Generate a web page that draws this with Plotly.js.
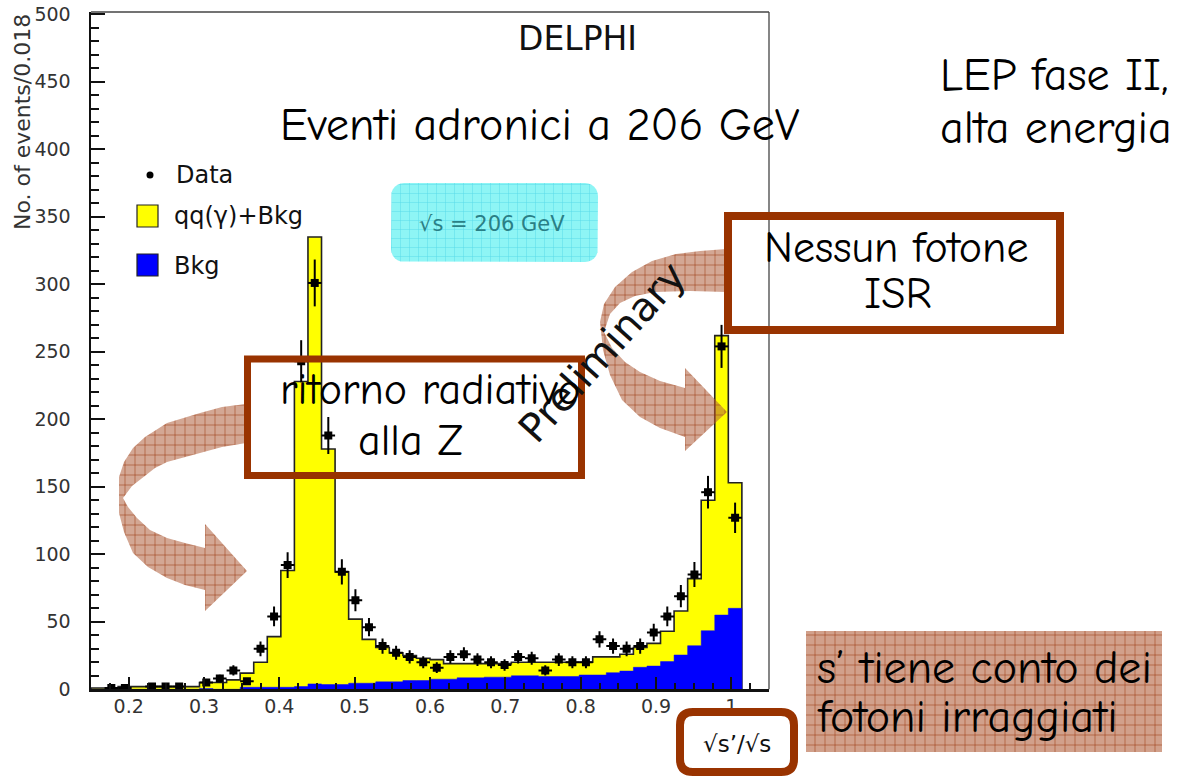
<!DOCTYPE html>
<html>
<head>
<meta charset="utf-8">
<script src="https://cdn.plot.ly/plotly-3.0.1.min.js"></script>
<style>
  html, body { margin: 0; padding: 0; background: #fff; }
  #chart { width: 1192px; height: 778px; }
</style>
</head>
<body>
<div id="chart"></div>
<script>
// sqrt(s')/sqrt(s) histogram, bins of 0.018
const binCenters = [
  0.159, 0.177, 0.195, 0.213, 0.231, 0.249, 0.267, 0.285, 0.303, 0.321,
  0.339, 0.357, 0.375, 0.393, 0.411, 0.429, 0.447, 0.465, 0.483, 0.501,
  0.519, 0.537, 0.555, 0.573, 0.591, 0.609, 0.627, 0.645, 0.663, 0.681,
  0.699, 0.717, 0.735, 0.753, 0.771, 0.789, 0.807, 0.825, 0.843, 0.861,
  0.879, 0.897, 0.915, 0.933, 0.951, 0.969, 0.987, 1.005
];
const binWidth = 0.018;

// qq(gamma)+Bkg simulation
const mcTotal = [
  1, 1, 2, 2, 2, 2, 2, 2, 5, 5,
  7, 12, 20, 39, 88, 228, 335, 178, 87, 52,
  37, 31, 27, 25, 23, 22, 19, 19, 19, 19,
  19, 20, 20, 20, 20, 20, 20, 24, 24, 26,
  31, 34, 43, 58, 82, 140, 262, 153
];

// background only
const bkg = [
  0, 0, 0, 0, 0, 0, 0, 0, 0.5, 0,
  0, 1.5, 1.5, 1.5, 1.5, 2, 4, 3.5, 3.5, 4.5,
  4.5, 5.5, 5.5, 6.5, 6.5, 7.5, 7.5, 8.5, 8.5, 9,
  9, 10, 10, 9.5, 9.5, 9.5, 10.6, 10.6, 12.3, 13.5,
  16.3, 17.2, 20.5, 25.4, 32.3, 43.4, 55, 60
];

// DELPHI data, 206 GeV
const dataCounts = [
  null, 1, 1, null, 2, 2, 2, null, 5, 8,
  14, 6, 30, 54, 92, 243, 301, 188, 87, 66,
  46, 32, 27, 24, 20, 16, 24, 26, 22, 20,
  18, 24, 23, 14, 22, 20, 20, 37, 32, 30,
  32, 42, 54, 69, 85, 146, 254, 127
];

const W = 1192, H = 778;
const plotL = 91, plotR = 769, plotT = 12, plotB = 689.3;

// histogram outline as a step path over the bin edges
function stepXY(values) {
  const xs = [], ys = [];
  const lo = binCenters[0] - binWidth / 2;
  const hi = binCenters[binCenters.length - 1] + binWidth / 2;
  xs.push(lo); ys.push(0);
  values.forEach((v, i) => { xs.push(binCenters[i] - binWidth / 2); ys.push(v); });
  xs.push(hi); ys.push(values[values.length - 1]);
  xs.push(hi); ys.push(0);
  return { xs, ys };
}

// rounded rectangle outline (page pixels) for the decoration layer
function roundRect(x0, y0, x1, y1, r) {
  const xs = [], ys = [];
  const corners = [
    [x1 - r, y0 + r, -90], [x1 - r, y1 - r, 0],
    [x0 + r, y1 - r, 90], [x0 + r, y0 + r, 180]
  ];
  corners.forEach(([cx, cy, a0]) => {
    for (let k = 0; k <= 6; k++) {
      const a = (a0 + k * 15) * Math.PI / 180;
      xs.push(cx + r * Math.cos(a)); ys.push(cy + r * Math.sin(a));
    }
  });
  xs.push(xs[0]); ys.push(ys[0]);
  return { xs, ys };
}
function roundRectPath(x0, y0, x1, y1, r) {
  return `M${x0 + r},${y0} L${x1 - r},${y0} Q${x1},${y0} ${x1},${y0 + r} ` +
         `L${x1},${y1 - r} Q${x1},${y1} ${x1 - r},${y1} L${x0 + r},${y1} ` +
         `Q${x0},${y1} ${x0},${y1 - r} L${x0},${y0 + r} Q${x0},${y0} ${x0 + r},${y0} Z`;
}

// curved arrows (page pixels)
const leftArrowX = [246,222,200,167,145,133,124,119,119,119,124,133,148,167,185,205, 205,247,205, 205,185,167,150,137,128,123, 132,143,155,167,185,200,222,246];
const leftArrowY = [404,407,413,423,437,448,462,477,495,513,532,553,567,578,585,590, 611,571,524, 548,543,538,530,518,507,498, 486,477,468,462,457,453,447,443];
const rightArrowX = [726,700,676,652,632,615,604,600, 603,610,622,640,660,685, 685,727,685, 685,660,640,625,612,604, 610,620,635,655,690,726];
const rightArrowY = [249,251,254,261,272,287,304,322, 350,375,400,417,428,437, 451,412,368, 388,381,372,362,348,332, 314,303,296,292,291,292];

const hatch = {
  shape: '+', size: 10, solidity: 0.12,
  bgcolor: 'rgba(175,95,60,0.55)', fgcolor: '#9a3a12', fgopacity: 0.9
};

const mc = stepXY(mcTotal);
const bk = stepXY(bkg);
const cyanBox = roundRect(391, 183, 598, 262, 13);

const traces = [
  {
    x: mc.xs, y: mc.ys, type: 'scatter', mode: 'lines',
    line: { shape: 'hv', color: '#222', width: 1.6 },
    fill: 'tozeroy', fillcolor: '#ffff00', hoverinfo: 'skip', xaxis: 'x', yaxis: 'y'
  },
  {
    x: bk.xs, y: bk.ys, type: 'scatter', mode: 'lines',
    line: { shape: 'hv', color: '#0000ff', width: 0.5 },
    fill: 'tozeroy', fillcolor: '#0000ff', hoverinfo: 'skip', xaxis: 'x', yaxis: 'y'
  },
  {
    x: binCenters, y: dataCounts, type: 'scatter', mode: 'markers',
    marker: { symbol: 'square', size: 8, color: '#000' },
    error_y: { type: 'data', array: dataCounts.map(v => v == null ? null : Math.sqrt(v)), color: '#000', thickness: 2, width: 0 },
    error_x: { type: 'constant', value: binWidth / 2, color: '#000', thickness: 2, width: 0 },
    hoverinfo: 'skip', xaxis: 'x', yaxis: 'y'
  },
  {
    x: cyanBox.xs, y: cyanBox.ys, type: 'scatter', mode: 'lines', line: { width: 0 },
    fill: 'toself', fillcolor: '#8ef5f5',
    fillpattern: { shape: '+', size: 9, solidity: 0.1, bgcolor: '#8ef5f5', fgcolor: '#4fd6e6', fgopacity: 0.9 },
    hoverinfo: 'skip', xaxis: 'x2', yaxis: 'y2'
  },
  {
    x: leftArrowX, y: leftArrowY, type: 'scatter', mode: 'lines', line: { width: 0 },
    fill: 'toself', fillcolor: hatch.bgcolor, fillpattern: hatch,
    hoverinfo: 'skip', xaxis: 'x2', yaxis: 'y2'
  },
  {
    x: rightArrowX, y: rightArrowY, type: 'scatter', mode: 'lines', line: { width: 0 },
    fill: 'toself', fillcolor: hatch.bgcolor, fillpattern: hatch,
    hoverinfo: 'skip', xaxis: 'x2', yaxis: 'y2'
  },
  {
    x: [806, 1162, 1162, 806, 806], y: [631, 631, 752, 752, 631], type: 'scatter', mode: 'lines', line: { width: 0 },
    fill: 'toself', fillcolor: 'rgba(190,120,90,0.7)',
    fillpattern: { shape: '+', size: 10, solidity: 0.12, bgcolor: 'rgba(190,120,90,0.7)', fgcolor: '#9a3a12', fgopacity: 0.9 },
    hoverinfo: 'skip', xaxis: 'x2', yaxis: 'y2'
  }
];

const sans = 'DejaVu Sans, Verdana, sans-serif';
const axisFont = { family: sans, size: 19, color: '#333' };
const handFont = "'Comic Sans MS', 'Comic Neue', 'Open Sans', sans-serif";
const brown = '#993300';

function label(text, x, y, size, opts) {
  return Object.assign({
    text, x, y, xref: 'x2', yref: 'y2', showarrow: false,
    font: { family: handFont, size, color: '#000' },
    xanchor: 'center', yanchor: 'middle'
  }, opts || {});
}
function plain(size, color) {
  return { family: sans, size, color: color || '#111' };
}

const layout = {
  width: W, height: H,
  margin: { l: 0, r: 0, t: 0, b: 0 },
  paper_bgcolor: '#fff', plot_bgcolor: 'rgba(0,0,0,0)',
  showlegend: false,
  xaxis: {
    domain: [plotL / W, plotR / W], range: [0.15, 1.05], anchor: 'y',
    tick0: 0.2, dtick: 0.1, ticks: 'inside', ticklen: 12, tickwidth: 2, tickcolor: '#111',
    showline: true, linewidth: 2.5, linecolor: '#111', showgrid: false, zeroline: false,
    tickfont: axisFont, ticklabelstandoff: -2,
    minor: { dtick: 0.025, tick0: 0, ticks: 'inside', ticklen: 6, tickwidth: 2, tickcolor: '#111', showgrid: false },
    fixedrange: true
  },
  yaxis: {
    domain: [(H - plotB) / H, (H - plotT) / H], range: [0, 501.7], anchor: 'x',
    tick0: 0, dtick: 50, ticks: 'inside', ticklen: 14, tickwidth: 2, tickcolor: '#111',
    showline: true, linewidth: 2.5, linecolor: '#111', showgrid: false, zeroline: false,
    tickfont: axisFont, ticklabelstandoff: 14,
    minor: { dtick: 10, tick0: 0, ticks: 'inside', ticklen: 8, tickwidth: 2, tickcolor: '#111', showgrid: false },
    fixedrange: true
  },
  xaxis2: { domain: [0, 1], range: [0, W], anchor: 'y2', visible: false, fixedrange: true },
  yaxis2: { domain: [0, 1], range: [H, 0], anchor: 'x2', visible: false, fixedrange: true },
  shapes: [
    // upper and right frame
    { type: 'line', xref: 'x2', yref: 'y2', x0: plotL, x1: plotR, y0: plotT, y1: plotT, line: { color: '#444', width: 1.3 } },
    { type: 'line', xref: 'x2', yref: 'y2', x0: plotR, x1: plotR, y0: plotT, y1: plotB, line: { color: '#444', width: 1.3 } },
    // legend swatches
    { type: 'circle', xref: 'x2', yref: 'y2', x0: 146.5, x1: 153.5, y0: 171.5, y1: 178.5, fillcolor: '#000', line: { width: 0 } },
    { type: 'rect', xref: 'x2', yref: 'y2', x0: 137, x1: 158, y0: 205, y1: 227, fillcolor: '#ffff00', line: { color: '#222', width: 1.2 } },
    { type: 'rect', xref: 'x2', yref: 'y2', x0: 137, x1: 158, y0: 254, y1: 276, fillcolor: '#0000ff', line: { color: '#222', width: 1.2 } },
    // annotation frames
    { type: 'rect', xref: 'x2', yref: 'y2', x0: 247.5, x1: 581.5, y0: 359, y1: 475.5, line: { color: brown, width: 7 }, layer: 'above' },
    { type: 'rect', xref: 'x2', yref: 'y2', x0: 728, x1: 1060, y0: 216, y1: 330, line: { color: brown, width: 8 }, layer: 'above' },
    { type: 'path', xref: 'x2', yref: 'y2', path: roundRectPath(680, 712, 794, 772, 13), fillcolor: '#fff', line: { color: brown, width: 8 }, layer: 'above' }
  ],
  annotations: [
    label('No. of events/0.018', 22, 122, 22, { font: plain(22, '#333'), textangle: -90 }),
    label('DELPHI', 577, 38, 33, { font: plain(33, '#111') }),
    label('Eventi adronici a 206 GeV', 540, 125, 46),
    label('LEP fase II,', 938, 75, 46, { xanchor: 'left' }),
    label('alta energia', 938, 128, 46, { xanchor: 'left' }),
    label('Data', 174, 175, 24, { xanchor: 'left', font: plain(24) }),
    label('qq(γ)+Bkg', 172, 216, 24, { xanchor: 'left', font: plain(24) }),
    label('Bkg', 172, 266, 24, { xanchor: 'left', font: plain(24) }),
    label('√s = 206 GeV', 492, 224, 21, { font: plain(21, '#2a7f86') }),
    label('Preliminary', 602, 352, 40, { textangle: -48, font: plain(40, '#111') }),
    label('ritorno radiativo', 430, 389, 44),
    label('alla Z', 410, 440, 44),
    label('Nessun fotone', 896, 247, 44),
    label('ISR', 898, 293, 44),
    label('s’ tiene conto dei', 815, 668, 46, { xanchor: 'left' }),
    label('fotoni irraggiati', 815, 717, 46, { xanchor: 'left' }),
    label('√s’/√s', 737, 744, 23, { font: plain(23, '#111') })
  ]
};

Plotly.newPlot('chart', traces, layout, { staticPlot: true, displayModeBar: false });
</script>
</body>
</html>
